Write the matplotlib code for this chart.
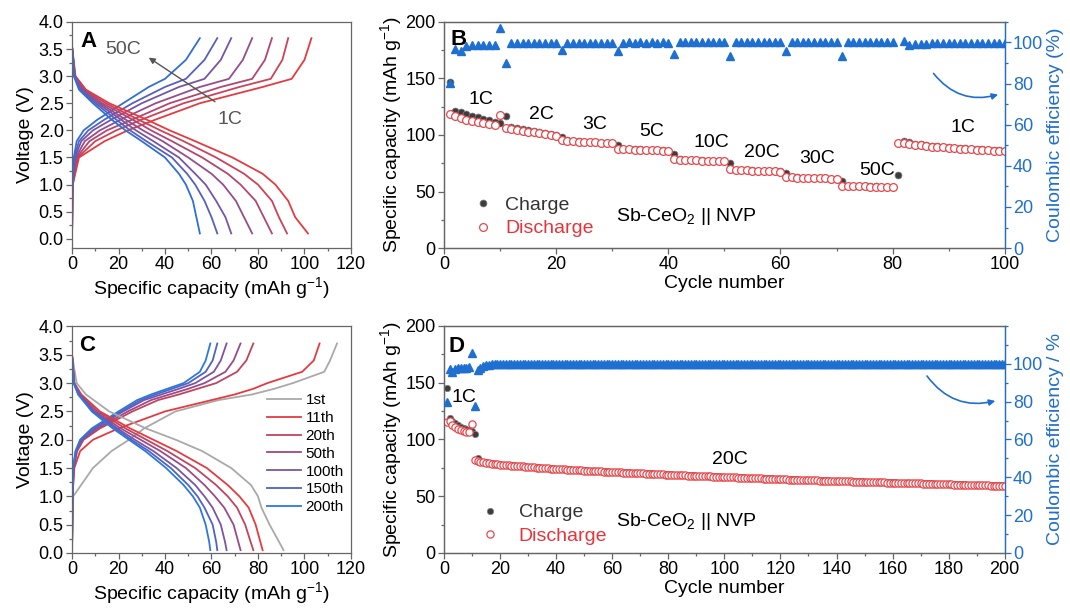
import numpy as np
import matplotlib
matplotlib.use('Agg')
import matplotlib.pyplot as plt
from matplotlib.lines import Line2D
from matplotlib.ticker import MultipleLocator

plt.rcParams['font.family'] = ['Liberation Sans', 'DejaVu Sans']
plt.rcParams['mathtext.fontset'] = 'custom'
plt.rcParams['mathtext.rm'] = 'Liberation Sans'
plt.rcParams['mathtext.it'] = 'Liberation Sans:italic'
plt.rcParams['mathtext.default'] = 'regular'

# ---------------- Panel A: rate voltage profiles ----------------
a_rates = ['1C', '2C', '3C', '5C', '10C', '20C', '50C']
a_colors = ['#e53b3f', '#cc4258', '#b34670', '#954d8c', '#7655a6', '#5660be', '#2f6fd6']
a_chg_v = [0.0, 1.0, 1.5, 1.8, 2.0, 2.2, 2.5, 2.8, 2.95, 3.3, 3.7]
a_chg_cap = [
    [0, 0.3, 3.0, 14, 24, 36, 55, 82, 94.5, 100, 103],
    [0, 0.3, 2.5, 10, 19, 30, 48, 72, 85.5, 90.5, 93],
    [0, 0.2, 2.0, 7.5, 15, 26, 42, 64, 77.5, 83, 86],
    [0, 0.2, 1.6, 5.5, 12, 21, 36, 55, 67.5, 73.5, 77.5],
    [0, 0.2, 1.2, 4.0, 9, 17, 30, 46, 57, 64, 68.5],
    [0, 0.1, 1.0, 3.0, 7, 14, 26, 40, 49, 57, 62.5],
    [0, 0.1, 0.8, 2.0, 5, 11, 22, 33, 40, 49, 55],
]
a_dis_v = [3.55, 3.0, 2.75, 2.5, 2.2, 2.0, 1.8, 1.5, 1.2, 1.0, 0.7, 0.4, 0.1]
a_dis_cap = [
    [0, 1.5, 6.0, 16, 32, 42, 53, 69, 82, 87.5, 93, 96, 101.5],
    [0, 1.3, 5.5, 14.5, 28.5, 38, 48, 62, 74, 80, 86, 89, 92.5],
    [0, 1.2, 5.0, 13, 26, 34, 43, 56, 67, 72.5, 79, 82.5, 86],
    [0, 1.1, 4.5, 12, 23, 30.5, 39, 50, 60, 65, 70.5, 74, 77.5],
    [0, 1.0, 4.0, 11, 21, 27.5, 35, 46, 53, 57.5, 62, 66, 68.5],
    [0, 0.9, 3.5, 10, 19, 25, 32, 43, 49.5, 53, 57, 60, 62.5],
    [0, 0.8, 3.0, 9, 17, 23, 30, 40, 46, 49, 52, 53.5, 55],
]

# ---------------- Panel C: cycling voltage profiles ----------------
c_labels = ['1st', '11th', '20th', '50th', '100th', '150th', '200th']
c_colors = ['#a9a9a9', '#e53b3f', '#c0445f', '#9c4a85', '#7a55a5', '#4d63c5', '#2d78de']
c_chg_v = [0.0, 1.0, 1.5, 1.8, 2.0, 2.2, 2.5, 2.7, 2.8, 2.9, 3.0, 3.2, 3.4, 3.7]
c_chg_cap = [
    [0, 0.5, 9, 17, 24.5, 31, 44.5, 63, 77.5, 87, 95, 108.5, 111, 114],
    [0, 0.2, 1.0, 3.5, 9, 20, 40, 60, 70, 78, 84, 99, 104, 106.5],
    [0, 0.2, 0.8, 2.2, 5, 12, 26, 37, 46, 54, 62, 71, 75, 78],
    [0, 0.2, 0.7, 2.0, 4.5, 11, 24, 34, 42, 50, 57, 66, 69.5, 72.5],
    [0, 0.2, 0.6, 1.8, 4, 10, 22, 31, 38.5, 46, 53, 61, 64, 66.5],
    [0, 0.2, 0.5, 1.6, 3.7, 9, 21, 29.5, 36, 43, 50, 57.5, 60.5, 62.5],
    [0, 0.2, 0.5, 1.5, 3.5, 8.5, 20, 28, 34, 41, 48, 55, 57.5, 59.5],
]
c_dis_v = [3.5, 3.0, 2.8, 2.5, 2.2, 2.0, 1.8, 1.5, 1.2, 1.0, 0.8, 0.5, 0.2, 0.05]
c_dis_cap = [
    [0, 2.0, 6.0, 16, 31.8, 44.6, 56, 68.5, 77, 80, 81.5, 85, 89, 91],
    [0, 1.0, 4.0, 12, 25, 35, 45, 58, 67, 72, 76, 79, 81, 82],
    [0, 1.0, 3.5, 11, 23, 32, 41, 53, 62, 67, 71, 74.5, 76.8, 78],
    [0, 0.9, 3.2, 10, 21, 29.5, 38, 49, 57, 61.5, 65.5, 69.5, 71.5, 72.5],
    [0, 0.8, 3.0, 9.5, 19.5, 27, 35, 45, 53, 57, 60.5, 64, 65.8, 66.5],
    [0, 0.8, 2.8, 9, 18.5, 25.5, 33, 42.5, 50, 54, 57, 60.5, 62, 62.5],
    [0, 0.7, 2.6, 8.5, 17.5, 24.5, 31.5, 40.5, 48, 52, 55, 57.5, 59, 59.5],
]

# ---------------- Panel B: rate performance ----------------
b_cycles = list(range(1, 101))
b_charge = [
    147.0, 121.2, 120.0, 118.5, 117.0, 115.6, 114.3, 113.0, 111.8, 110.3,
    117.0, 106.8, 105.8, 104.9, 104.0, 103.2, 102.4, 101.6, 100.8, 100.0,
    98.6, 95.2, 94.8, 94.5, 94.2, 93.9, 93.6, 93.3, 93.0, 92.7,
    91.2, 87.9, 87.6, 87.4, 87.2, 87.0, 86.8, 86.6, 86.4, 86.2,
    83.5, 78.6, 78.2, 77.9, 77.7, 77.5, 77.3, 77.1, 77.0, 76.8,
    74.8, 69.3, 69.0, 68.8, 68.6, 68.4, 68.2, 68.1, 67.9, 67.8,
    66.8, 62.8, 62.5, 62.3, 62.1, 62.0, 61.8, 61.7, 61.5, 61.4,
    59.7, 55.2, 55.0, 54.8, 54.7, 54.6, 54.5, 54.4, 54.3, 54.2,
    64.5, 95.0, 93.5, 92.3, 91.6, 91.0, 90.5, 90.0, 89.6, 89.2,
    88.8, 88.4, 88.1, 87.8, 87.5, 87.2, 86.9, 86.6, 86.3, 86.0,
]
b_discharge = [
    118.3, 116.5, 115.0, 113.5, 112.4, 111.3, 110.5, 109.8, 108.8, 117.7,
    105.9, 105.1, 104.4, 103.7, 103.0, 102.3, 101.6, 100.9, 100.2, 99.5,
    95.3, 94.8, 94.5, 94.2, 94.0, 93.7, 93.4, 93.1, 92.8, 92.5,
    87.8, 87.5, 87.3, 87.1, 86.9, 86.7, 86.6, 86.4, 86.2, 86.0,
    78.6, 78.2, 77.9, 77.7, 77.5, 77.3, 77.1, 77.0, 76.8, 76.6,
    69.5, 69.0, 68.8, 68.6, 68.4, 68.3, 68.1, 68.0, 67.8, 67.6,
    62.8, 62.5, 62.3, 62.1, 62.0, 61.8, 61.7, 61.6, 61.4, 61.3,
    55.0, 54.8, 54.7, 54.6, 54.5, 54.4, 54.3, 54.2, 54.1, 54.0,
    93.2, 92.8, 92.0, 91.4, 90.8, 90.3, 89.8, 89.4, 89.0, 88.6,
    88.2, 87.9, 87.6, 87.3, 87.0, 86.7, 86.4, 86.1, 85.8, 85.5,
]
b_ce = [
    80.5, 97.0, 96.0, 98.5, 98.6, 98.8, 98.8, 99.0, 99.0, 107.0,
    90.2, 99.5, 99.6, 99.6, 99.7, 99.6, 99.7, 99.6, 99.7, 99.6,
    96.5, 99.8, 99.8, 99.9, 99.8, 99.9, 99.8, 99.9, 99.8, 99.9,
    95.8, 99.9, 100.0, 99.9, 100.0, 99.9, 100.0, 99.9, 100.0, 99.9,
    94.6, 100.0, 100.1, 100.0, 100.1, 100.0, 100.1, 100.0, 100.1, 100.0,
    93.5, 100.1, 100.0, 100.1, 100.0, 100.1, 100.0, 100.1, 100.0, 100.1,
    95.7, 100.0, 100.1, 100.0, 100.1, 100.0, 100.1, 100.0, 100.1, 100.0,
    93.5, 100.1, 100.0, 100.1, 100.0, 100.1, 100.0, 100.1, 100.0, 100.1,
    np.nan, 100.5, 98.6, 99.2, 99.4, 99.4, 99.5, 99.5, 99.5, 99.6,
    99.6, 99.6, 99.6, 99.7, 99.7, 99.7, 99.7, 99.7, 99.7, 99.7,
]
b_rate_labels = ['1C', '2C', '3C', '5C', '10C', '20C', '30C', '50C', '1C']

# ---------------- Panel D: long cycling ----------------
d_cycles = list(range(1, 201))
d_discharge = [
    115.0, 116.0, 113.0, 111.0, 109.5, 108.5, 107.5, 106.8, 106.2, 113.6,
    82.0, 80.8, 80.2, 79.7, 79.3, 79.0, 78.7, 78.4, 78.1, 77.8,
    77.6, 77.4, 77.2, 77.0, 76.8, 76.6, 76.4, 76.2, 76.0, 75.8,
    75.6, 75.4, 75.2, 75.0, 74.8, 74.7, 74.5, 74.3, 74.2, 74.0,
    73.9, 73.7, 73.6, 73.4, 73.3, 73.2, 73.0, 72.9, 72.7, 72.6,
    72.5, 72.3, 72.2, 72.1, 71.9, 71.8, 71.7, 71.6, 71.4, 71.3,
    71.2, 71.1, 70.9, 70.8, 70.7, 70.6, 70.5, 70.3, 70.2, 70.1,
    70.0, 69.9, 69.8, 69.7, 69.5, 69.4, 69.3, 69.2, 69.1, 69.0,
    68.9, 68.8, 68.7, 68.6, 68.4, 68.3, 68.2, 68.1, 68.0, 67.9,
    67.8, 67.7, 67.6, 67.5, 67.4, 67.3, 67.2, 67.1, 67.0, 66.9,
    66.8, 66.7, 66.6, 66.5, 66.4, 66.3, 66.2, 66.1, 66.0, 65.9,
    65.8, 65.7, 65.6, 65.5, 65.4, 65.3, 65.3, 65.2, 65.1, 65.0,
    64.9, 64.8, 64.7, 64.6, 64.6, 64.5, 64.4, 64.3, 64.2, 64.2,
    64.1, 64.0, 63.9, 63.8, 63.8, 63.7, 63.6, 63.5, 63.5, 63.4,
    63.3, 63.2, 63.1, 63.1, 63.0, 62.9, 62.8, 62.8, 62.7, 62.6,
    62.5, 62.5, 62.4, 62.3, 62.2, 62.2, 62.1, 62.0, 62.0, 61.9,
    61.8, 61.7, 61.7, 61.6, 61.5, 61.5, 61.4, 61.3, 61.3, 61.2,
    61.1, 61.0, 61.0, 60.9, 60.8, 60.8, 60.7, 60.6, 60.6, 60.5,
    60.4, 60.3, 60.3, 60.2, 60.1, 60.1, 60.0, 59.9, 59.9, 59.8,
    59.7, 59.6, 59.6, 59.5, 59.4, 59.4, 59.3, 59.2, 59.2, 59.1,
]
d_charge = [
    145.0, 118.5, 116.5, 114.5, 112.5, 111.0, 109.8, 108.8, 108.0, 107.5,
    105.0, 83.4, 81.2, 80.4, 79.9, 79.5, 79.1, 78.8, 78.5, 78.2,
    77.9, 77.7, 77.5, 77.3, 77.1, 76.9, 76.7, 76.5, 76.3, 76.1,
    75.9, 75.7, 75.5, 75.3, 75.1, 75.0, 74.8, 74.6, 74.5, 74.3,
    74.2, 74.0, 73.9, 73.7, 73.6, 73.5, 73.3, 73.2, 73.0, 72.9,
    72.8, 72.6, 72.5, 72.4, 72.2, 72.1, 72.0, 71.9, 71.7, 71.6,
    71.5, 71.4, 71.2, 71.1, 71.0, 70.9, 70.8, 70.6, 70.5, 70.4,
    70.3, 70.2, 70.1, 70.0, 69.8, 69.7, 69.6, 69.5, 69.4, 69.3,
    69.2, 69.1, 69.0, 68.9, 68.7, 68.6, 68.5, 68.4, 68.3, 68.2,
    68.1, 68.0, 67.9, 67.8, 67.7, 67.6, 67.5, 67.4, 67.3, 67.2,
    67.1, 67.0, 66.9, 66.8, 66.7, 66.6, 66.5, 66.4, 66.3, 66.2,
    66.1, 66.0, 65.9, 65.8, 65.7, 65.6, 65.6, 65.5, 65.4, 65.3,
    65.2, 65.1, 65.0, 64.9, 64.9, 64.8, 64.7, 64.6, 64.5, 64.5,
    64.4, 64.3, 64.2, 64.1, 64.1, 64.0, 63.9, 63.8, 63.8, 63.7,
    63.6, 63.5, 63.4, 63.4, 63.3, 63.2, 63.1, 63.1, 63.0, 62.9,
    62.8, 62.8, 62.7, 62.6, 62.5, 62.5, 62.4, 62.3, 62.3, 62.2,
    62.1, 62.0, 62.0, 61.9, 61.8, 61.8, 61.7, 61.6, 61.6, 61.5,
    61.4, 61.3, 61.3, 61.2, 61.1, 61.1, 61.0, 60.9, 60.9, 60.8,
    60.7, 60.6, 60.6, 60.5, 60.4, 60.4, 60.3, 60.2, 60.2, 60.1,
    60.0, 59.9, 59.9, 59.8, 59.7, 59.7, 59.6, 59.5, 59.5, 59.4,
]
d_ce = [
    79.6, 97.0, 95.5, 97.0, 97.5, 97.5, 98.0, 98.0, 98.5, 105.5,
    77.5, 96.5, 98.0, 98.8, 99.2, 99.5, 99.6, 99.7, 99.8, 99.8,
    99.9, 100.0, 99.9, 100.0, 99.9, 100.0, 99.9, 100.0, 99.9, 100.0,
    99.9, 100.0, 100.0, 99.9, 100.0, 100.0, 99.9, 100.0, 100.0, 99.9,
    100.0, 100.0, 99.9, 100.0, 100.0, 99.9, 100.0, 100.0, 99.9, 100.0,
    100.0, 99.9, 100.0, 100.0, 99.9, 100.0, 100.0, 99.9, 100.0, 100.0,
    99.9, 100.0, 100.0, 99.9, 100.0, 100.0, 99.9, 100.0, 100.0, 99.9,
    100.0, 100.0, 99.9, 100.0, 100.0, 99.9, 100.0, 100.0, 99.9, 100.0,
    100.0, 99.9, 100.0, 100.0, 99.9, 100.0, 100.0, 99.9, 100.0, 100.0,
    99.9, 100.0, 100.0, 99.9, 100.0, 100.0, 99.9, 100.0, 100.0, 99.9,
    100.0, 100.0, 99.9, 100.0, 100.0, 99.9, 100.0, 100.0, 99.9, 100.0,
    100.0, 99.9, 100.0, 100.0, 99.9, 100.0, 100.0, 99.9, 100.0, 100.0,
    99.9, 100.0, 100.0, 99.9, 100.0, 100.0, 99.9, 100.0, 100.0, 99.9,
    100.0, 100.0, 99.9, 100.0, 100.0, 99.9, 100.0, 100.0, 99.9, 100.0,
    100.0, 99.9, 100.0, 100.0, 99.9, 100.0, 100.0, 99.9, 100.0, 100.0,
    99.9, 100.0, 100.0, 99.9, 100.0, 100.0, 99.9, 100.0, 100.0, 99.9,
    100.0, 100.0, 99.9, 100.0, 100.0, 99.9, 100.0, 100.0, 99.9, 100.0,
    100.0, 99.9, 100.0, 100.0, 99.9, 100.0, 100.0, 99.9, 100.0, 100.0,
    99.9, 100.0, 100.0, 99.9, 100.0, 100.0, 99.9, 100.0, 100.0, 99.9,
    100.0, 100.0, 99.9, 100.0, 100.0, 99.9, 100.0, 100.0, 99.9, 100.0,
]

# ---------------- styling ----------------
SPINE = '#666666'
BLUE = '#1f6fd0'
RED = '#e8474c'
DARK = '#3d3d3d'
TICK_FS = 13
LAB_FS = 14
ANN_FS = 14

fig = plt.figure(figsize=(10.7, 6.08), dpi=100)
fig.patch.set_facecolor('white')


def style(ax):
    for s in ax.spines.values():
        s.set_color(SPINE)
        s.set_linewidth(0.9)
    ax.tick_params(which='both', direction='out', color=SPINE, labelsize=TICK_FS,
                   top=False, right=False, width=0.9, pad=2)
    ax.tick_params(which='major', length=4)
    ax.tick_params(which='minor', length=2)


def profile_panel(ax, chg_v, chg_caps, dis_v, dis_caps, colors, ylo):
    for cap, col in zip(chg_caps, colors):
        ax.plot(cap, chg_v, color=col, lw=1.3)
    lines = []
    for cap, col in zip(dis_caps, colors):
        ln, = ax.plot(cap, dis_v, color=col, lw=1.3)
        lines.append(ln)
    ax.set_xlim(0, 120)
    ax.set_ylim(ylo, 4.0)
    ax.xaxis.set_major_locator(MultipleLocator(20))
    ax.xaxis.set_minor_locator(MultipleLocator(10))
    ax.yaxis.set_major_locator(MultipleLocator(0.5))
    ax.yaxis.set_minor_locator(MultipleLocator(0.25))
    ax.yaxis.set_major_formatter(matplotlib.ticker.FormatStrFormatter('%.1f'))
    ax.set_xlabel('Specific capacity (mAh g$^{-1}$)', fontsize=LAB_FS, labelpad=1)
    ax.set_ylabel('Voltage (V)', fontsize=LAB_FS, labelpad=3)
    style(ax)
    return lines


axA = fig.add_axes([0.0673, 0.592, 0.2607, 0.372])
axB = fig.add_axes([0.415, 0.592, 0.524, 0.372])
axC = fig.add_axes([0.0673, 0.0905, 0.2607, 0.3725])
axD = fig.add_axes([0.415, 0.0905, 0.524, 0.3735])

# Panel A
profile_panel(axA, a_chg_v, a_chg_cap, a_dis_v, a_dis_cap, a_colors, -0.17)
axA.text(3.5, 3.64, 'A', fontsize=16, fontweight='bold', va='center', ha='left')
axA.annotate('', xy=(32, 3.37), xytext=(62.5, 2.5),
             arrowprops=dict(arrowstyle='-|>', color='#555555', lw=1.0, mutation_scale=9))
axA.text(22, 3.5, a_rates[-1], fontsize=ANN_FS, color='#555555', ha='center', va='center')
axA.text(68, 2.2, a_rates[0], fontsize=ANN_FS, color='#555555', ha='center', va='center')

# Panel C
c_lines = profile_panel(axC, c_chg_v, c_chg_cap, c_dis_v, c_dis_cap, c_colors, 0.0)
axC.text(3.0, 3.67, 'C', fontsize=16, fontweight='bold', va='center', ha='left')
axC.legend(c_lines, c_labels, loc='upper left', bbox_to_anchor=(0.70, 0.705), frameon=False,
           fontsize=11, handlelength=2.2, handletextpad=0.3, labelspacing=0.25,
           borderpad=0, borderaxespad=0)


def cycle_panel(ax, cyc, chg, dis, ce, xmax, ce_top, ce_label, ms_c, ms_d, ms_t):
    ax.plot(cyc, chg, linestyle='none', marker='o', ms=ms_c, mfc=DARK, mec='#808080', mew=0.5, zorder=2)
    ax.plot(cyc, dis, linestyle='none', marker='o', ms=ms_d, mfc='white', mec=RED, mew=0.9, zorder=3)
    ax.set_xlim(0, xmax)
    ax.set_ylim(0, 200)
    ax.xaxis.set_major_locator(MultipleLocator(20))
    ax.xaxis.set_minor_locator(MultipleLocator(10))
    ax.yaxis.set_major_locator(MultipleLocator(50))
    ax.yaxis.set_minor_locator(MultipleLocator(25))
    ax.set_xlabel('Cycle number', fontsize=LAB_FS, labelpad=1)
    ax.set_ylabel('Specific capacity (mAh g$^{-1}$)', fontsize=LAB_FS, labelpad=1)
    style(ax)
    ax2 = ax.twinx()
    ax2.plot(cyc, ce, linestyle='none', marker='^', ms=ms_t, color=BLUE, mec=BLUE, zorder=4)
    ax2.set_ylim(0, ce_top)
    ax2.set_yticks([0, 20, 40, 60, 80, 100])
    ax2.yaxis.set_minor_locator(MultipleLocator(10))
    for s in ax2.spines.values():
        s.set_color(SPINE)
        s.set_linewidth(0.9)
    ax2.spines['right'].set_color(BLUE)
    ax2.tick_params(which='both', direction='out', color=BLUE, labelcolor=BLUE,
                    labelsize=TICK_FS, width=0.9, pad=2)
    ax2.tick_params(which='major', length=4)
    ax2.tick_params(which='minor', length=2)
    ax2.set_ylabel(ce_label, fontsize=LAB_FS, color=BLUE, labelpad=3)
    return ax2


def cycle_legend(ax, x0, yc, pad, ms_c, ms_d):
    h1 = Line2D([], [], linestyle='none', marker='o', ms=ms_c, mfc=DARK, mec='#808080', mew=0.5)
    h2 = Line2D([], [], linestyle='none', marker='o', ms=ms_d, mfc='white', mec=RED, mew=0.9)
    leg = ax.legend([h1, h2], ['Charge', 'Discharge'], loc='center left', bbox_to_anchor=(x0, yc),
                    frameon=False, fontsize=ANN_FS, handlelength=1.0, handletextpad=pad,
                    labelspacing=0.3, borderpad=0, borderaxespad=0)
    leg.get_texts()[0].set_color('#333333')
    leg.get_texts()[1].set_color('#e8333a')


# Panel B
axB2 = cycle_panel(axB, b_cycles, b_charge, b_discharge, b_ce, 100, 110,
                   'Coulombic efficiency (%)', 5.0, 5.6, 5.8)
axB.text(1.2, 184, 'B', fontsize=16, fontweight='bold', va='center', ha='left', zorder=6)
b_label_pos = [(6.5, 131), (17.3, 118), (26.8, 109), (37, 103), (47.6, 93), (56.7, 84.7),
               (66.5, 78.8), (77.2, 69), (92.5, 107)]
for lab, (x, y) in zip(b_rate_labels, b_label_pos):
    axB.text(x, y, lab, fontsize=ANN_FS, ha='center', va='center')
axB.text(43.3, 28, 'Sb-CeO$_2$ || NVP', fontsize=ANN_FS, ha='center', va='center')
cycle_legend(axB, 0.053, 0.1375, 0.6, 5.0, 5.6)
axB2.annotate('', xy=(99.3, 75), xytext=(87, 86),
              arrowprops=dict(arrowstyle='-|>', color=BLUE, lw=1.2, mutation_scale=9,
                              connectionstyle='arc3,rad=0.35'))

# Panel D
axD2 = cycle_panel(axD, d_cycles, d_charge, d_discharge, d_ce, 200, 120,
                   'Coulombic efficiency / %', 4.6, 5.2, 5.2)
axD.text(1.6, 181.5, 'D', fontsize=16, fontweight='bold', va='center', ha='left', zorder=6)
axD.text(7.0, 137, '1C', fontsize=ANN_FS, ha='center', va='center')
axD.text(102, 82, '20C', fontsize=ANN_FS, ha='center', va='center')
axD.text(86.6, 28, 'Sb-CeO$_2$ || NVP', fontsize=ANN_FS, ha='center', va='center')
cycle_legend(axD, 0.064, 0.126, 1.0, 4.6, 5.2)
axD2.annotate('', xy=(197.6, 80.7), xytext=(171.7, 94.7),
              arrowprops=dict(arrowstyle='-|>', color=BLUE, lw=1.2, mutation_scale=9,
                              connectionstyle='arc3,rad=0.35'))

fig.savefig('out.png', dpi=100)
